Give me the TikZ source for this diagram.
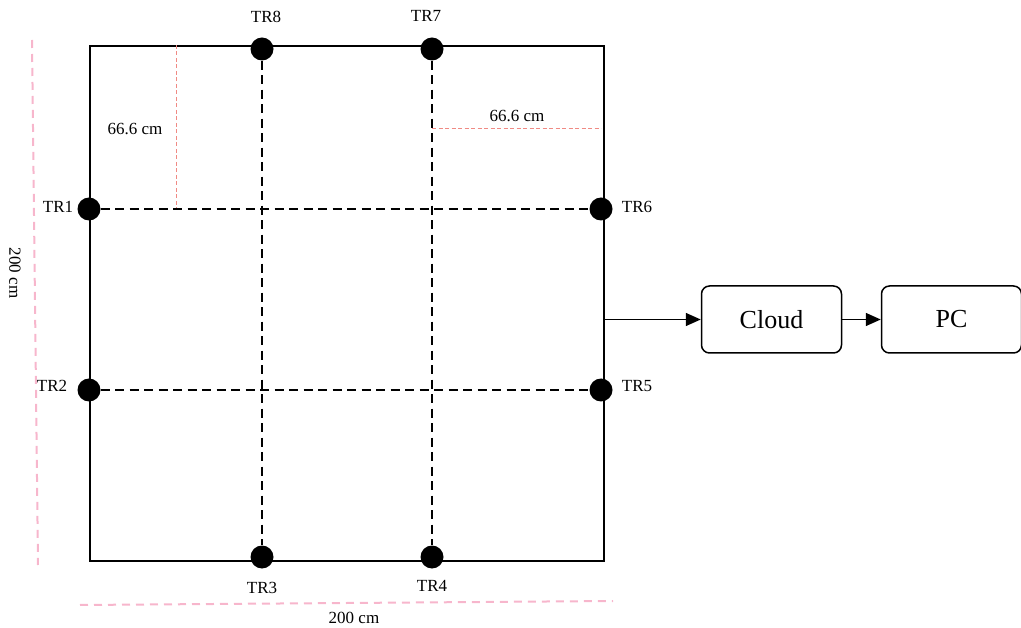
\documentclass[tikz,border=0pt]{standalone}
\usepackage{fontspec}
\setmainfont{Liberation Serif}
\usetikzlibrary{arrows.meta}
\definecolor{pinkdim}{HTML}{F7B6CC}
\definecolor{salmon}{HTML}{F08A84}
\tikzset{
  sensor/.style={circle,fill=black,inner sep=0pt,minimum size=23pt},
  lbl/.style={font=\fontsize{17}{20}\selectfont,inner sep=0pt},
  grid/.style={line width=2pt,dash pattern=on 9pt off 5.5pt},
  dimline/.style={pinkdim,line width=2pt,dash pattern=on 8pt off 6pt},
  guide/.style={salmon,line width=0.9pt,dash pattern=on 4pt off 2.5pt},
  box/.style={draw,rounded corners=8pt,line width=1.5pt,minimum width=140pt,minimum height=67pt,font=\fontsize{26}{30}\selectfont},
  conn/.style={line width=1.5pt,-{Triangle[length=15pt,width=13pt]}}
}
\begin{document}
\begin{tikzpicture}[x=1pt,y=-1pt]
\useasboundingbox (0,0) rectangle (1021,628);
% field
\node[draw,line width=2pt,minimum width=514pt,minimum height=515pt,inner sep=0pt,anchor=north west] (field) at (89,45) {};
% guides
\coordinate (g1a) at (176,45); \coordinate (g1b) at (176,208);
\draw[guide] (g1a) -- (g1b);
\coordinate (g2a) at (432,128); \coordinate (g2b) at (601,128);
\draw[guide] (g2a) -- (g2b);
% dimension lines
\coordinate (d1a) at (32,40); \coordinate (d1b) at (38,565);
\draw[dimline] (d1a) -- (d1b);
\coordinate (d2a) at (80,605); \coordinate (d2b) at (613,601);
\draw[dimline] (d2a) -- (d2b);
% sensors
\node[sensor] (tr8) at (262,49) {};
\node[sensor] (tr7) at (432,49) {};
\node[sensor] (tr1) at (89,209) {};
\node[sensor] (tr6) at (601,209) {};
\node[sensor] (tr2) at (89,390) {};
\node[sensor] (tr5) at (601,390) {};
\node[sensor] (tr3) at (262,557) {};
\node[sensor] (tr4) at (432,557) {};
% grid
\draw[grid] (tr1) -- (tr6);
\draw[grid] (tr2) -- (tr5);
\draw[grid] (tr8) -- (tr3);
\draw[grid] (tr7) -- (tr4);
% labels
\node[lbl] (l8) at (266,17) {TR8};
\node[lbl] (l7) at (426,16) {TR7};
\node[lbl] (l1) at (58,207) {TR1};
\node[lbl] (l6) at (637,207) {TR6};
\node[lbl] (l2) at (52,386) {TR2};
\node[lbl] (l5) at (637,386) {TR5};
\node[lbl] (l3) at (262,588) {TR3};
\node[lbl] (l4) at (432,586) {TR4};
\node[lbl] (m1) at (135,129) {66.6 cm};
\node[lbl] (m2) at (517,116) {66.6 cm};
\node[lbl] (m3) at (354,618) {200 cm};
\node[lbl,rotate=-90] (m4) at (15,273) {200 cm};
% boxes
\node[box] (cloud) at (771.5,319.5) {Cloud};
\node[box] (pc) at (951.5,319.5) {PC};
\draw[conn] (field.east |- cloud.west) -- (cloud.west);
\draw[conn] (cloud) -- (pc);
\end{tikzpicture}
\end{document}
